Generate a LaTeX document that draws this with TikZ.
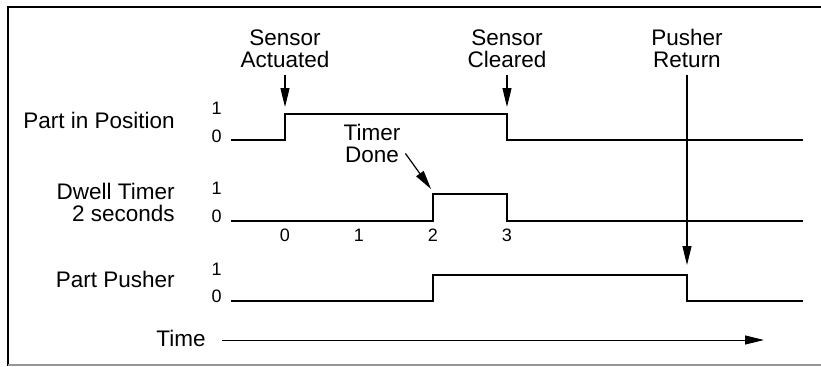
\documentclass[tikz,border=0pt]{standalone}
\usepackage{fontspec}
\setmainfont{Liberation Sans}
\usetikzlibrary{arrows.meta}
\definecolor{edgegray}{RGB}{150, 150, 150}

\begin{document}
\begin{tikzpicture}[x=0.5pt, y=-0.5pt,
    signal/.style={line width=1pt, line join=miter},
    pointer/.style={line width=0.6pt, -{Triangle[length=9.5pt, width=4.5pt]}},
    rowlabel/.style={anchor=base east, inner sep=0pt, align=right, font=\fontsize{11.25}{11}\selectfont},
    eventlabel/.style={anchor=base, inner sep=0pt, align=center, font=\fontsize{11.25}{11}\selectfont},
    levellabel/.style={anchor=base east, inner sep=0pt, font=\fontsize{9}{9}\selectfont},
    ticklabel/.style={anchor=base, inner sep=0pt, font=\fontsize{9}{9}\selectfont}]
  \useasboundingbox (0,0) rectangle (821,366);

  % Frame
  \draw[line width=1.3pt] (821,7) -- (8,7) -- (8,366);
  \draw[edgegray, line width=0.6pt] (8,365) -- (821,365);

  % Row labels (base = last line)
  \node[rowlabel] (pos) at (175,128) {Part in Position};
  \node[rowlabel] (dwell) at (175,221) {Dwell Timer\\2 seconds};
  \node[rowlabel] (push) at (175,287) {Part Pusher};

  % Levels 1 and 0
  \foreach \name/\hi/\lo in {pos/114/142, dwell/194/222, push/275/302} {
    \node[levellabel] (\name-one) at (222,\hi) {1};
    \node[levellabel] (\name-zero) at (222,\lo) {0};
  }

  % Signals
  \draw[signal] (231,140) -- (285,140) -- (285,114) -- (507,114) -- (507,140) -- (803,140);
  \draw[signal] (231,221) -- (433,221) -- (433,194) -- (507,194) -- (507,221) -- (803,221);
  \draw[signal] (231,301) -- (433,301) -- (433,275) -- (687,275) -- (687,301) -- (803,301);

  % Seconds
  \foreach \t in {0,...,3}
    \node[ticklabel] (tick\t) at (285+74*\t,241) {\t};

  % Events
  \node[eventlabel] (actuated) at (285,67) {Sensor\\Actuated};
  \node[eventlabel] (cleared) at (507,67) {Sensor\\Cleared};
  \node[eventlabel] (return) at (687,67) {Pusher\\Return};
  \node[eventlabel] (done) at (372,162) {Timer\\Done};

  \coordinate (actuated-tip) at (285,107);
  \coordinate (cleared-tip) at (507,107);
  \coordinate (return-tip) at (687,265);
  \coordinate (done-tip) at (431,189);

  \draw[pointer, shorten <=3.5pt] (actuated.south) -- (actuated-tip);
  \draw[pointer, shorten <=3.5pt] (cleared.south) -- (cleared-tip);
  \draw[pointer, shorten <=3.5pt] (return.south) -- (return-tip);
  \draw[pointer, shorten <=4pt] ([yshift=-2pt]done.east) -- (done-tip);

  % Time axis
  \node[rowlabel] (time) at (206,346) {Time};
  \coordinate (time-end) at (764,340);
  \draw[pointer, line width=0.5pt, shorten <=8pt] (time.east |- time-end) -- (time-end);
\end{tikzpicture}
\end{document}
